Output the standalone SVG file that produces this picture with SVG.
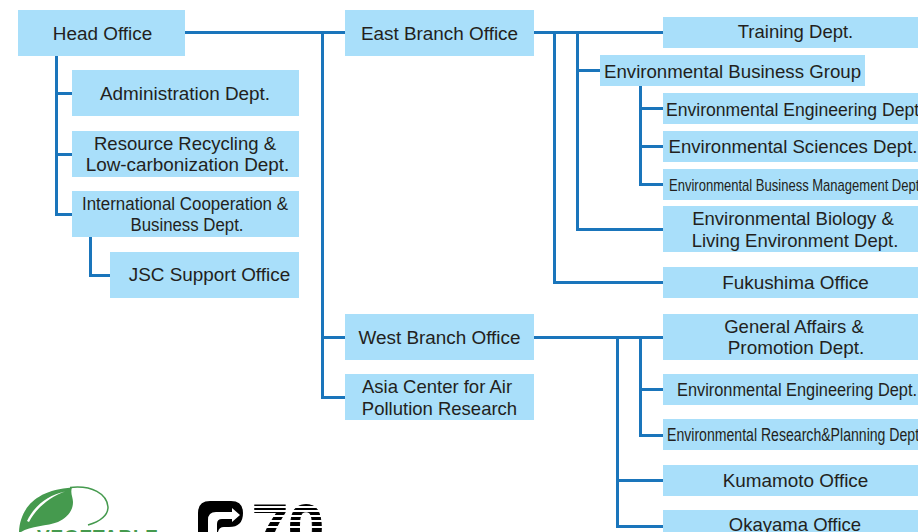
<svg xmlns="http://www.w3.org/2000/svg" width="918" height="532" viewBox="0 0 918 532">
<style>
.b{fill:#a9dffa}
.t{font-family:"Liberation Sans",Arial,sans-serif;font-size:18.9px;fill:#231f20;text-anchor:middle}
.s{font-size:18.5px}
.c{fill:none;stroke:#1a75bb;stroke-width:3}
</style>
<rect width="918" height="532" fill="#fff"/>
<g id="connectors">
<path class="c" d="M185 32.500H345M322.500 32.500V397.500H345M322.500 337.500H345"/>
<path class="c" d="M56.500 56V214.500H72M56.500 93.500H72M56.500 154.500H72"/>
<path class="c" d="M90.500 237V275.500H110"/>
<path class="c" d="M534 32.500H663M554.500 32.500V282.500H663M577.500 32.500V229.500H663M577.500 70.500H600"/>
<path class="c" d="M640.500 86V184.500H663M640.500 108.500H663M640.500 146.500H663"/>
<path class="c" d="M534 337.500H663M617.500 337.500V526.500H663M617.500 480.500H663M640.500 337.500V435.500H663M640.500 389.500H663"/>
</g>
<g id="head-office"><rect class="b" x="18" y="10" width="167" height="46"/><text class="t" x="102.500" y="40">Head Office</text></g>
<g id="administration"><rect class="b" x="72" y="70" width="227" height="46"/><text class="t" x="185" y="100">Administration Dept.</text></g>
<g id="resource-recycling"><rect class="b" x="72" y="131" width="227" height="46"/><text class="t s" x="185" y="150">Resource Recycling &amp;</text><text class="t" x="187.500" y="171">Low-carbonization Dept.</text></g>
<g id="international"><rect class="b" x="72" y="191" width="227" height="46"/><text class="t" x="185" y="210" textLength="206" lengthAdjust="spacingAndGlyphs">International Cooperation &amp;</text><text class="t" x="187" y="231" textLength="113" lengthAdjust="spacingAndGlyphs">Business Dept.</text></g>
<g id="jsc-support"><rect class="b" x="110" y="252" width="189" height="46"/><text class="t" x="209.500" y="281">JSC Support Office</text></g>
<g id="east-branch"><rect class="b" x="345" y="10" width="189" height="46"/><text class="t" x="439.500" y="40">East Branch Office</text></g>
<g id="west-branch"><rect class="b" x="345" y="314" width="189" height="46"/><text class="t" x="439.500" y="344">West Branch Office</text></g>
<g id="asia-center"><rect class="b" x="345" y="374" width="189" height="46"/><text class="t s" x="437" y="393">Asia Center for Air</text><text class="t s" x="439.500" y="415">Pollution Research</text></g>
<g id="training"><rect class="b" x="663" y="17" width="255" height="31"/><text class="t s" x="795.500" y="38">Training Dept.</text></g>
<g id="env-business-group"><rect class="b" x="600" y="55" width="265" height="31"/><text class="t" x="732.500" y="78" textLength="257" lengthAdjust="spacingAndGlyphs">Environmental Business Group</text></g>
<g id="env-engineering-east"><rect class="b" x="663" y="93" width="255" height="31"/><text class="t" x="666" y="116" style="text-anchor:start" textLength="258" lengthAdjust="spacingAndGlyphs">Environmental Engineering Dept.</text></g>
<g id="env-sciences"><rect class="b" x="663" y="131" width="255" height="31"/><text class="t" x="793" y="153" textLength="249" lengthAdjust="spacingAndGlyphs">Environmental Sciences Dept.</text></g>
<g id="env-business-mgmt"><rect class="b" x="663" y="169" width="255" height="31"/><text class="t" x="669" y="191" style="text-anchor:start;font-size:17px" textLength="254" lengthAdjust="spacingAndGlyphs">Environmental Business Management Dept.</text></g>
<g id="env-biology"><rect class="b" x="663" y="206" width="255" height="46"/><text class="t s" x="793" y="225">Environmental Biology &amp;</text><text class="t s" x="795" y="247">Living Environment Dept.</text></g>
<g id="fukushima"><rect class="b" x="663" y="267" width="255" height="31"/><text class="t" x="795.500" y="289">Fukushima Office</text></g>
<g id="general-affairs"><rect class="b" x="663" y="314" width="255" height="46"/><text class="t s" x="794" y="333">General Affairs &amp;</text><text class="t" x="796" y="354">Promotion Dept.</text></g>
<g id="env-engineering-west"><rect class="b" x="663" y="374" width="255" height="31"/><text class="t" x="797" y="396" textLength="240" lengthAdjust="spacingAndGlyphs">Environmental Engineering Dept.</text></g>
<g id="env-research"><rect class="b" x="663" y="419" width="255" height="31"/><text class="t" x="667" y="441" style="text-anchor:start;font-size:17.500px" textLength="256" lengthAdjust="spacingAndGlyphs">Environmental Research&amp;Planning Dept.</text></g>
<g id="kumamoto"><rect class="b" x="663" y="465" width="255" height="31"/><text class="t" x="795.500" y="487">Kumamoto Office</text></g>
<g id="okayama"><rect class="b" x="663" y="510" width="255" height="31"/><text class="t s" x="795" y="531">Okayama Office</text></g>
<path fill="#459a4e" d="M19 532C20 510 34 490 72 487.500C70 493 73 497 73 502C73 512 66 518 58 522C48 526 30 526 21 532Z"/>
<path fill="#fff" d="M27 521C34 506 48 495 65 491.500C50 497 36 508 29 522Z"/>
<path fill="none" stroke="#459a4e" stroke-width="1.500" d="M70 487.500C92 485 107 494 108 507C108 517 98 522 88 525"/>
<text x="37" y="543" font-family="'Liberation Sans',Arial,sans-serif" font-weight="700" font-size="19" fill="#459a4e" textLength="121" lengthAdjust="spacing">VEGETABLE</text>
<path fill="#000" d="M198 532V513Q198 501 210 501H231Q243 501 243 513Q243 527 229 527H224Q219 527 218 532Z"/>
<path fill="#fff" d="M208 532V520Q208 512 216 512H232V508L240 515L232 522V519H222Q217 519 217 524V532Z"/>
<text x="252" y="551" font-family="'Liberation Sans',Arial,sans-serif" font-weight="700" font-size="66" fill="#000" stroke="#000" stroke-width="1" textLength="72" lengthAdjust="spacingAndGlyphs">70</text>
<g fill="#fff"><rect x="250" y="506" width="76" height="2"/><rect x="250" y="510" width="76" height="2"/><rect x="250" y="515" width="76" height="2"/><rect x="250" y="520" width="76" height="2"/><rect x="250" y="526" width="76" height="2"/></g>
</svg>
